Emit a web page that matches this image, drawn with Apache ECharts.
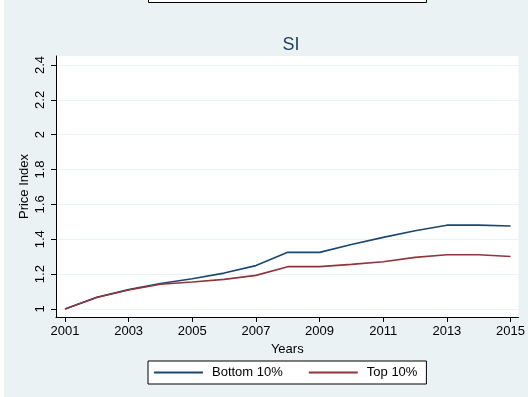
<!DOCTYPE html>
<html>
<head>
<meta charset="utf-8">
<script src="https://cdn.jsdelivr.net/npm/echarts@6/dist/echarts.min.js"></script>
<style>
  html, body { margin: 0; padding: 0; background: #ffffff; }
  #wrap { position: absolute; left: 4px; top: 0; width: 524px; height: 397px; background: #eaf2f3; }
  #chart { position: absolute; left: 0; top: 0; width: 528px; height: 397px; }
</style>
</head>
<body>
<div id="wrap"></div>
<div id="chart"></div>
<script>
// Price index by year, bottom vs top decile
const years = [2001, 2002, 2003, 2004, 2005, 2006, 2007, 2008, 2009, 2010, 2011, 2012, 2013, 2014, 2015];
const bottom10 = [1.000, 1.067, 1.112, 1.146, 1.174, 1.206, 1.249, 1.325, 1.325, 1.370, 1.411, 1.449, 1.481, 1.481, 1.476];
const top10    = [1.000, 1.066, 1.109, 1.142, 1.155, 1.170, 1.193, 1.243, 1.243, 1.256, 1.271, 1.296, 1.311, 1.311, 1.301];
const xTicks = [2001, 2003, 2005, 2007, 2009, 2011, 2013, 2015];
const yTicks = [1, 1.2, 1.4, 1.6, 1.8, 2, 2.2, 2.4];

const chart = echarts.init(document.getElementById('chart'), null, { renderer: 'canvas' });

const txt = '#000000';
const font = 'Liberation Sans, Arial, sans-serif';

chart.setOption({
  backgroundColor: 'transparent',
  animation: false,
  title: {
    text: 'SI',
    left: 286, top: 31, textAlign: 'center',
    textStyle: { color: '#1e3d5c', fontSize: 18, fontWeight: 'normal', fontFamily: font }
  },
  grid: { left: 56, top: 56, right: 9, bottom: 80, show: true, backgroundColor: '#ffffff', borderWidth: 0 },
  xAxis: {
    type: 'value',
    min: 2000.718, max: 2015.251,
    name: 'Years', nameLocation: 'middle', nameGap: 24,
    nameTextStyle: { color: txt, fontSize: 13, fontFamily: font },
    axisLine: { show: true, onZero: false, lineStyle: { color: '#000000', width: 1 } },
    axisTick: { show: true, length: 5, customValues: xTicks, lineStyle: { color: '#000000' } },
    axisLabel: { customValues: xTicks, color: txt, fontSize: 13, fontFamily: font, margin: 8, formatter: v => String(v) },
    splitLine: { show: false }
  },
  yAxis: {
    type: 'value',
    min: 0.9541, max: 2.4516,
    name: 'Price Index', nameLocation: 'middle', nameGap: 25, nameRotate: 90,
    nameMoveOverlap: false,
    nameTextStyle: { color: txt, fontSize: 13, fontFamily: font },
    axisLine: { show: true, lineStyle: { color: '#000000', width: 1 } },
    axisTick: { show: true, length: 5, customValues: yTicks, lineStyle: { color: '#000000' } },
    axisLabel: { customValues: yTicks, rotate: 90, color: txt, fontSize: 13, fontFamily: font, margin: 9,
                 formatter: v => String(Math.round(v * 10) / 10) },
    splitLine: { show: true, lineStyle: { color: '#eaf2f3', width: 1.2 } }
  },
  legend: {
    left: 148, top: 361,
    orient: 'horizontal',
    backgroundColor: '#ffffff',
    borderColor: '#000000', borderWidth: 1, borderRadius: 0,
    padding: [5, 9, 5, 6],
    itemWidth: 49, itemHeight: 2, itemGap: 26,
    icon: 'rect',
    textStyle: { color: txt, fontSize: 13, fontFamily: font, padding: [0, 0, 0, 4] },
    data: ['Bottom 10%', 'Top 10%']
  },
  series: [
    {
      name: 'Bottom 10%', type: 'line', symbol: 'none',
      data: years.map((y, i) => [y, bottom10[i]]),
      itemStyle: { color: '#1a476f' },
      lineStyle: { color: '#1a476f', width: 1.6 }
    },
    {
      name: 'Top 10%', type: 'line', symbol: 'none',
      data: years.map((y, i) => [y, top10[i]]),
      itemStyle: { color: '#90353b' },
      lineStyle: { color: '#90353b', width: 1.6 }
    }
  ],
  graphic: [
    { type: 'rect', left: 148, top: -4, shape: { width: 278, height: 6 },
      style: { fill: '#ffffff', stroke: '#000000', lineWidth: 1 } }
  ]
});
</script>
</body>
</html>
